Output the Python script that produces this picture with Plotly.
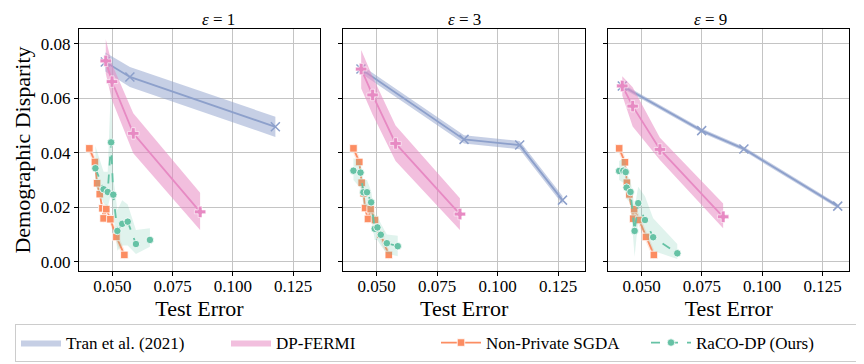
import plotly.graph_objects as go
from plotly.subplots import make_subplots

# epsilon values (one panel each)
eps_list = [1, 3, 9]

# Tran et al. (2021)
tran_x_e1 = [0.0471, 0.0573, 0.1176]
tran_y_e1 = [0.0733, 0.0678, 0.0495]
tran_err_e1 = [0.0035, 0.0037, 0.0037]
tran_x_e3 = [0.0435, 0.0861, 0.1091, 0.1268]
tran_y_e3 = [0.0707, 0.0449, 0.0428, 0.0226]
tran_err_e3 = [0.0015, 0.0015, 0.0015, 0.0015]
tran_x_e9 = [0.0420, 0.0749, 0.0924, 0.1313]
tran_y_e9 = [0.0645, 0.0481, 0.0414, 0.0204]
tran_err_e9 = [0.0008, 0.0008, 0.0008, 0.0008]

# DP-FERMI
fermi_x_e1 = [0.0473, 0.0499, 0.0587, 0.0864]
fermi_y_e1 = [0.0737, 0.0661, 0.0471, 0.0183]
fermi_lo_e1 = [0.0690, 0.0593, 0.0398, 0.0116]
fermi_hi_e1 = [0.0816, 0.0725, 0.0545, 0.0253]
fermi_x_e3 = [0.0436, 0.0483, 0.0578, 0.0844]
fermi_y_e3 = [0.0707, 0.0612, 0.0434, 0.0175]
fermi_lo_e3 = [0.0636, 0.0540, 0.0370, 0.0116]
fermi_hi_e3 = [0.0777, 0.0680, 0.0500, 0.0233]
fermi_x_e9 = [0.0420, 0.0463, 0.0576, 0.0838]
fermi_y_e9 = [0.0645, 0.0571, 0.0412, 0.0165]
fermi_lo_e9 = [0.0610, 0.0496, 0.0373, 0.0123]
fermi_hi_e9 = [0.0681, 0.0640, 0.0455, 0.0214]

# Non-Private SGDA
sgda_x_e1 = [0.0405, 0.0428, 0.0437, 0.0448, 0.0459, 0.0464, 0.0475, 0.0492, 0.0517, 0.0550]
sgda_y_e1 = [0.0416, 0.0366, 0.0288, 0.0248, 0.0196, 0.0159, 0.0193, 0.0156, 0.0091, 0.0025]
sgda_x_e3 = [0.0404, 0.0428, 0.0438, 0.0446, 0.0452, 0.0464, 0.0475, 0.0493, 0.0515, 0.0550]
sgda_y_e3 = [0.0416, 0.0366, 0.0290, 0.0251, 0.0197, 0.0157, 0.0193, 0.0153, 0.0099, 0.0025]
sgda_x_e9 = [0.0407, 0.0431, 0.0439, 0.0449, 0.0465, 0.0469, 0.0490, 0.0518, 0.0551]
sgda_y_e9 = [0.0416, 0.0365, 0.0290, 0.0247, 0.0158, 0.0193, 0.0153, 0.0091, 0.0025]
sgda_err = 0.002

# RaCO-DP (Ours)
raco_x_e1 = [0.0430, 0.0464, 0.0481, 0.0495, 0.0504, 0.0521, 0.0541, 0.0564, 0.0598, 0.0656]
raco_y_e1 = [0.0343, 0.0266, 0.0256, 0.0438, 0.0246, 0.0113, 0.0139, 0.0147, 0.0065, 0.0080]
raco_lo_e1 = [0.0280, 0.0215, 0.0200, 0.0250, 0.0180, 0.0040, 0.0060, 0.0060, 0.0028, 0.0055]
raco_hi_e1 = [0.0425, 0.0330, 0.0330, 0.0660, 0.0310, 0.0190, 0.0226, 0.0210, 0.0116, 0.0123]
raco_x_e3 = [0.0404, 0.0433, 0.0445, 0.0460, 0.0477, 0.0492, 0.0503, 0.0517, 0.0542, 0.0587]
raco_y_e3 = [0.0334, 0.0327, 0.0255, 0.0255, 0.0218, 0.0121, 0.0126, 0.0099, 0.0068, 0.0057]
raco_lo_e3 = [0.0300, 0.0270, 0.0210, 0.0200, 0.0160, 0.0080, 0.0080, 0.0060, 0.0030, 0.0020]
raco_hi_e3 = [0.0380, 0.0370, 0.0300, 0.0300, 0.0260, 0.0170, 0.0170, 0.0140, 0.0100, 0.0095]
raco_x_e9 = [0.0407, 0.0424, 0.0434, 0.0438, 0.0454, 0.0471, 0.0486, 0.0514, 0.0548, 0.0648]
raco_y_e9 = [0.0333, 0.0334, 0.0329, 0.0272, 0.0256, 0.0113, 0.0215, 0.0153, 0.0090, 0.0031]
raco_lo_e9 = [0.0300, 0.0290, 0.0290, 0.0230, 0.0215, 0.0018, 0.0150, 0.0100, 0.0040, 0.0010]
raco_hi_e9 = [0.0370, 0.0380, 0.0370, 0.0320, 0.0300, 0.0200, 0.0275, 0.0240, 0.0160, 0.0065]

x_ticks = [0.05, 0.075, 0.1, 0.125]
y_ticks = [0.0, 0.02, 0.04, 0.06, 0.08]

BLUE = "#8da0cb"
PINK = "#e78ac3"
ORANGE = "#fc8d62"
GREEN = "#66c2a5"
FONT = "Liberation Serif"

# page has an 8px body margin, so the figure is 8px smaller than the window
W, H = 856, 356


def band(x, lo, hi, color, opacity, name, show):
    return go.Scatter(x=list(x) + list(x)[::-1], y=list(hi) + list(lo)[::-1],
                      fill="toself", fillcolor=color, opacity=opacity, mode="lines",
                      line=dict(width=0, color=color), name=name, legendgroup=name,
                      showlegend=show, hoverinfo="skip")


panels = [
    (tran_x_e1, tran_y_e1, tran_err_e1, fermi_x_e1, fermi_y_e1, fermi_lo_e1, fermi_hi_e1,
     sgda_x_e1, sgda_y_e1, raco_x_e1, raco_y_e1, raco_lo_e1, raco_hi_e1),
    (tran_x_e3, tran_y_e3, tran_err_e3, fermi_x_e3, fermi_y_e3, fermi_lo_e3, fermi_hi_e3,
     sgda_x_e3, sgda_y_e3, raco_x_e3, raco_y_e3, raco_lo_e3, raco_hi_e3),
    (tran_x_e9, tran_y_e9, tran_err_e9, fermi_x_e9, fermi_y_e9, fermi_lo_e9, fermi_hi_e9,
     sgda_x_e9, sgda_y_e9, raco_x_e9, raco_y_e9, raco_lo_e9, raco_hi_e9),
]

fig = make_subplots(rows=1, cols=3, shared_yaxes=True)

for i, p in enumerate(panels):
    tx, ty, te, fx, fy, flo, fhi, sx, sy, rx, ry, rlo, rhi = p
    col = i + 1
    first = i == 0
    # Tran et al.
    fig.add_trace(band(tx, [a - e for a, e in zip(ty, te)], [a + e for a, e in zip(ty, te)],
                       BLUE, 0.5, "Tran et al. (2021)", first), row=1, col=col)
    fig.add_trace(go.Scatter(x=tx, y=ty, mode="lines+markers", line=dict(color=BLUE, width=1.8),
                             marker=dict(symbol="x-thin", size=9, line=dict(color=BLUE, width=1.5)),
                             legendgroup="Tran et al. (2021)", showlegend=False), row=1, col=col)
    # DP-FERMI
    fig.add_trace(band(fx, flo, fhi, PINK, 0.55, "DP-FERMI", first), row=1, col=col)
    fig.add_trace(go.Scatter(x=fx, y=fy, mode="lines+markers", line=dict(color=PINK, width=1.8),
                             marker=dict(symbol="cross", size=9.5, color=PINK, line=dict(color="white", width=0.6)),
                             legendgroup="DP-FERMI", showlegend=False), row=1, col=col)
    # Non-Private SGDA
    fig.add_trace(band(sx, [v - sgda_err for v in sy], [v + sgda_err for v in sy],
                       ORANGE, 0.2, "sgda_band", False), row=1, col=col)
    fig.add_trace(go.Scatter(x=sx, y=sy, mode="lines+markers", name="Non-Private SGDA",
                             line=dict(color=ORANGE, width=1.8),
                             marker=dict(symbol="square", size=7.5, color=ORANGE, line=dict(color="white", width=0.8)),
                             legendgroup="sgda", showlegend=first), row=1, col=col)
    # RaCO-DP
    fig.add_trace(band(rx, rlo, rhi, GREEN, 0.2, "raco_band", False), row=1, col=col)
    fig.add_trace(go.Scatter(x=rx, y=ry, mode="lines+markers", name="RaCO-DP (Ours)",
                             line=dict(color=GREEN, width=1.8, dash="dash"),
                             marker=dict(symbol="circle", size=7.5, color=GREEN, line=dict(color="white", width=0.8)),
                             legendgroup="raco", showlegend=first), row=1, col=col)

# panel edges in window pixels
x_edges = [(79, 320), (343.3, 585), (608.3, 849.3)]
domains = [[(a - 8) / W, (b - 8) / W] for a, b in x_edges]
ydom = [1 - (271 - 8) / H, 1 - (29 - 8) / H]

axis_style = dict(showline=True, linecolor="black", linewidth=1, mirror=True,
                  ticks="outside", ticklen=4, tickcolor="black",
                  showgrid=True, gridcolor="#c4c4c4", gridwidth=1, zeroline=False,
                  tickfont=dict(family=FONT, size=17, color="black"))

for i in range(3):
    n = "" if i == 0 else str(i + 1)
    fig.layout["xaxis" + n].update(domain=domains[i], range=[0.0362, 0.1361], tickvals=x_ticks,
                                   tickformat=".3f", ticklabelstandoff=-4,
                                   title=dict(text="Test Error", standoff=0,
                                              font=dict(family=FONT, size=22, color="black")),
                                   **axis_style)
    fig.layout["yaxis" + n].update(domain=ydom, range=[-0.0034, 0.0854], tickvals=y_ticks,
                                   tickformat=".2f", showticklabels=(i == 0), **axis_style)
    fig.add_annotation(text="<i>ε</i> = " + str(eps_list[i]), xref="paper", yref="paper",
                       x=(domains[i][0] + domains[i][1]) / 2, y=1, yanchor="top",
                       showarrow=False, font=dict(family=FONT, size=17, color="black"))

fig.layout.yaxis.title = dict(text="Demographic Disparity", standoff=4,
                              font=dict(family=FONT, size=22, color="black"))

fig.update_layout(
    width=W, height=H,
    margin=dict(l=0, r=0, t=0, b=0),
    plot_bgcolor="white", paper_bgcolor="white",
    font=dict(family=FONT, size=17, color="black"),
    legend=dict(orientation="h", x=0.5, xanchor="center", y=1 - (343 - 8) / H, yanchor="middle",
                bordercolor="#cccccc", borderwidth=1, bgcolor="white",
                itemwidth=40, entrywidth=155, font=dict(family=FONT, size=17), traceorder="normal"),
)

fig.write_html("out.html")
